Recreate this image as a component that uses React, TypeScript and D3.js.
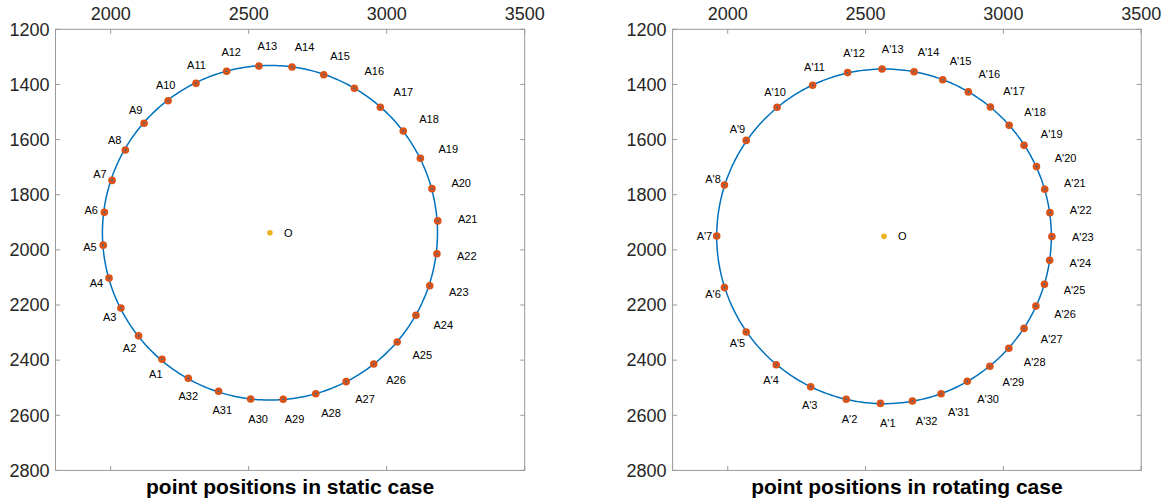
import React from "react";
import * as d3 from "d3";

// ---- data ----
const staticX = [2186, 2101, 2037, 1994, 1973, 1977, 2005, 2053, 2121, 2208, 2309, 2420, 2537, 2657, 2772, 2883,
  2977, 3060, 3122, 3164, 3185, 3182, 3156, 3106, 3038, 2953, 2853, 2743, 2625, 2507, 2391, 2281];
const staticY = [2397, 2312, 2211, 2102, 1983, 1864, 1748, 1638, 1541, 1459, 1396, 1352, 1333, 1337, 1365, 1414,
  1483, 1569, 1668, 1778, 1895, 2014, 2130, 2237, 2334, 2414, 2478, 2522, 2542, 2541, 2513, 2466];
const staticLabels = staticX.map((_, i) => `A${i + 1}`);
const staticCenter = [2577, 1938];
const staticRadius = 607;

const rotX = [2554, 2430, 2301, 2176, 2067, 1988, 1960, 1988, 2067, 2179, 2308, 2435, 2560, 2676, 2780, 2873,
  2953, 3021, 3075, 3120, 3150, 3169, 3176, 3168, 3149, 3118, 3075, 3020, 2951, 2869, 2774, 2670];
const rotY = [2557, 2542, 2497, 2417, 2298, 2137, 1950, 1765, 1603, 1483, 1403, 1357, 1344, 1354, 1383, 1427,
  1482, 1548, 1621, 1698, 1780, 1865, 1952, 2038, 2125, 2204, 2285, 2357, 2422, 2477, 2522, 2548];
const rotLabels = rotX.map((_, i) => `A'${i + 1}`);
const rotCenter = [2567, 1951];
const rotRadius = 607;

const xTicks = [2000, 2500, 3000, 3500];
const yTicks = [1200, 1400, 1600, 1800, 2000, 2200, 2400, 2600, 2800];
const xDomain = [1800, 3500];
const yDomain = [1200, 2800];

const titles = ["point positions in static case", "point positions in rotating case"];

const FONT = "'Liberation Sans', Arial, Helvetica, sans-serif";
const AXIS_COLOR = "#9a9a9a";
const TEXT_COLOR = "#262626";
const LINE_BLUE = "#0072BD";
const ORANGE = "#D95319";
const YELLOW = "#EDB120";
const LABEL_SCALE = 1.12;

type PanelProps = {
  left: number;
  right: number;
  xs: number[];
  ys: number[];
  labels: string[];
  center: number[];
  radius: number;
  title: string;
};

function Panel({ left, right, xs, ys, labels, center, radius, title }: PanelProps) {
  const top = 29.3;
  const bottom = 470.4;
  const x = d3.scaleLinear().domain(xDomain).range([left, right]);
  const y = d3.scaleLinear().domain(yDomain).range([top, bottom]);
  const tickLen = 4.5;
  const cx = x(center[0]);
  const cy = y(center[1]);
  const circlePts = d3.range(0, 361, 1).map((a) => {
    const t = (a * Math.PI) / 180;
    return [center[0] + radius * Math.cos(t), center[1] + radius * Math.sin(t)];
  });
  const line = d3
    .line<number[]>()
    .x((d) => x(d[0]))
    .y((d) => y(d[1]));
  return (
    <g>
      <rect x={left} y={top} width={right - left} height={bottom - top} fill="none" stroke={AXIS_COLOR} strokeWidth={1} />
      {xTicks.map((t) => (
        <g key={"xt" + t}>
          <line x1={x(t)} x2={x(t)} y1={top} y2={top + tickLen} stroke={AXIS_COLOR} />
          <line x1={x(t)} x2={x(t)} y1={bottom} y2={bottom - tickLen} stroke={AXIS_COLOR} />
          <text x={x(t)} y={top - 9} textAnchor="middle" fontSize={18} fill={TEXT_COLOR} fontFamily={FONT}>
            {t}
          </text>
        </g>
      ))}
      {yTicks.map((t) => (
        <g key={"yt" + t}>
          <line x1={left} x2={left + tickLen} y1={y(t)} y2={y(t)} stroke={AXIS_COLOR} />
          <line x1={right} x2={right - tickLen} y1={y(t)} y2={y(t)} stroke={AXIS_COLOR} />
          <text x={left - 6} y={y(t)} dy="0.35em" textAnchor="end" fontSize={18} fill={TEXT_COLOR} fontFamily={FONT}>
            {t}
          </text>
        </g>
      ))}
      <path d={line(circlePts) || ""} fill="none" stroke={LINE_BLUE} strokeWidth={1.5} />
      {xs.map((vx, i) => (
        <g key={"p" + i}>
          <circle cx={x(vx)} cy={y(ys[i])} r={3.8} fill={ORANGE} />
          <circle cx={x(vx)} cy={y(ys[i])} r={0.8} fill={LINE_BLUE} />
          <text
            x={x(center[0] + (vx - center[0]) * LABEL_SCALE)}
            y={y(center[1] + (ys[i] - center[1]) * LABEL_SCALE)}
            dy="0.35em"
            fontSize={11}
            fill="#000"
            fontFamily={FONT}
          >
            {labels[i]}
          </text>
        </g>
      ))}
      <circle cx={cx} cy={cy} r={2.8} fill={YELLOW} />
      <text x={cx + 14} y={cy} dy="0.35em" fontSize={11} fill="#000" fontFamily={FONT}>
        O
      </text>
      <text
        x={(left + right) / 2}
        y={494}
        textAnchor="middle"
        fontSize={21}
        fontWeight="bold"
        fill="#000"
        fontFamily={FONT}
      >
        {title}
      </text>
    </g>
  );
}

export default function App() {
  return (
    <svg width={1167} height={501} style={{ position: "absolute", left: 0, top: 0, background: "#fff" }}>
      <rect x={0} y={0} width={1167} height={501} fill="#fff" />
      <Panel
        left={55.5}
        right={524.7}
        xs={staticX}
        ys={staticY}
        labels={staticLabels}
        center={staticCenter}
        radius={staticRadius}
        title={titles[0]}
      />
      <Panel
        left={672.6}
        right={1141.2}
        xs={rotX}
        ys={rotY}
        labels={rotLabels}
        center={rotCenter}
        radius={rotRadius}
        title={titles[1]}
      />
    </svg>
  );
}
